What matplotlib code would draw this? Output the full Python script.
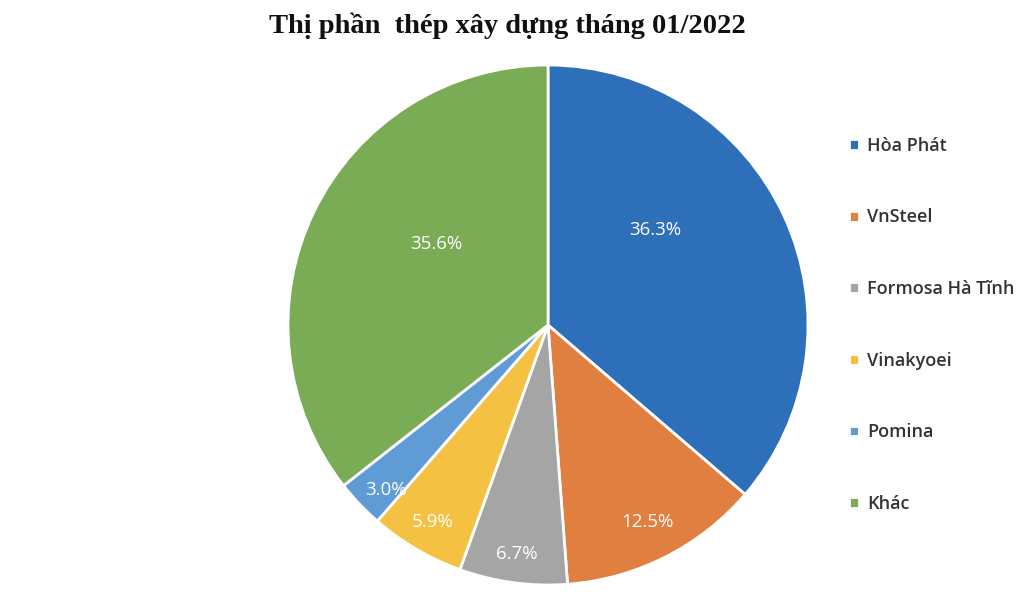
import numpy as np
import matplotlib.pyplot as plt

companies = ['Hòa Phát', 'VnSteel', 'Formosa Hà Tĩnh', 'Vinakyoei', 'Pomina', 'Khác']
shares = [36.3, 12.5, 6.7, 5.9, 3.0, 35.6]
colors = ['#2e6fb9', '#e07f3f', '#a5a5a5', '#f4c142', '#5f9bd5', '#7aab55']

# label placement (Excel "best fit" look): radial distance and angle shift
label_dist = [0.55, 0.85, 0.89, 0.88, 0.89, 0.53]
label_shift = [17, 0, 0, 0, 2, -10]

fig = plt.figure(figsize=(10.24, 6.09), dpi=100)
ax = fig.add_axes([288 / 1024, 24 / 609, 520 / 1024, 520 / 609])

wedges, _ = ax.pie(shares, colors=colors, startangle=90, counterclock=False,
                   radius=1.0, wedgeprops=dict(edgecolor='white', linewidth=2))
ax.set_xlim(-1, 1)
ax.set_ylim(-1, 1)
ax.set_aspect('equal')
ax.axis('off')

for w, v, d, s in zip(wedges, shares, label_dist, label_shift):
    ang = np.deg2rad((w.theta1 + w.theta2) / 2 + s)
    ax.text(d * np.cos(ang), d * np.sin(ang), f'{v:.1f}%', ha='center', va='center',
            color='white', fontsize=13.5, family='Open Sans')

fig.text(0.495, 0.958, 'Thị phần  thép xây dựng tháng 01/2022', ha='center', va='center',
         fontsize=20.5, fontweight='bold', family='Liberation Serif', color='#111111')

leg = fig.legend(wedges, companies, loc='upper left', bbox_to_anchor=(0.813, 0.802),
                 frameon=False, labelspacing=2.97, handlelength=0.55,
                 handleheight=0.55, handletextpad=0.45,
                 prop=dict(family='Open Sans', size=13, weight='semibold'))
for t in leg.get_texts():
    t.set_color('#333333')

fig.savefig('out.png', dpi=100)
